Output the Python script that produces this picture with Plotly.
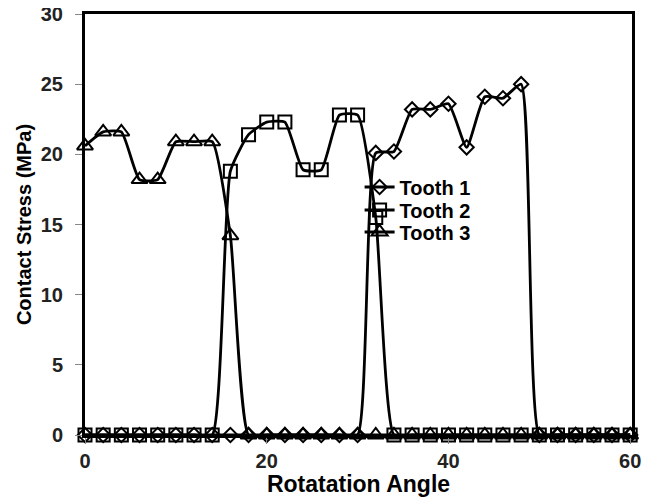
import plotly.graph_objects as go

angles = list(range(0, 62, 2))

tooth1 = [0, 0, 0, 0, 0, 0, 0, 0, 0, 0, 0, 0, 0, 0, 0, 0,
          20.1, 20.2, 23.2, 23.2, 23.6, 20.5, 24.1, 24.0, 25.0,
          0, 0, 0, 0, 0, 0]
tooth2 = [0, 0, 0, 0, 0, 0, 0, 0,
          18.8, 21.4, 22.3, 22.3, 18.9, 18.9, 22.8, 22.8, 15.5,
          0, 0, 0, 0, 0, 0, 0, 0, 0, 0, 0, 0, 0, 0]
tooth3 = [20.6, 21.6, 21.6, 18.2, 18.2, 20.9, 20.9, 20.9, 14.2,
          0, 0, 0, 0, 0, 0, 0, 0, 0, 0, 0, 0, 0, 0, 0, 0, 0, 0, 0, 0, 0, 0]

names = ["Tooth 1", "Tooth 2", "Tooth 3"]
symbols = ["diamond-open", "square-open", "triangle-up-open"]
sizes = [11, 13, 14]
series = [tooth1, tooth2, tooth3]
legend_ids = ["legend", "legend2", "legend3"]

font_family = "Liberation Sans, Arial, sans-serif"

fig = go.Figure()
for name, ys, sym, sz, lg in zip(names, series, symbols, sizes, legend_ids):
    fig.add_trace(go.Scatter(
        x=angles, y=ys, name=name, mode="lines+markers", legend=lg,
        line=dict(color="black", width=2.8, shape="spline", smoothing=0.5),
        marker=dict(symbol=sym, size=sz, color="black", line=dict(width=2, color="black")),
        cliponaxis=False,
    ))

legend_style = dict(xanchor="left", yanchor="middle", bgcolor="rgba(0,0,0,0)", borderwidth=0,
                    font=dict(size=20, family=font_family, color="black", weight="bold"),
                    itemwidth=30)
leg_x = 0.502
leg_y = [(435 - 187) / 421, (435 - 210) / 421, (435 - 232) / 421]

# page body has an 8px default margin; compensate so the plot sits where the reference does
fig.update_layout(
    width=648, height=489,
    margin=dict(l=77, r=24, t=6, b=62, autoexpand=False),
    plot_bgcolor="white", paper_bgcolor="white",
    font=dict(family=font_family, color="black"),
    showlegend=True,
    legend=dict(x=leg_x, y=leg_y[0], **legend_style),
    legend2=dict(x=leg_x, y=leg_y[1], **legend_style),
    legend3=dict(x=leg_x, y=leg_y[2], **legend_style),
    xaxis=dict(range=[0, 60.2], tickvals=[0, 20, 40, 60], showgrid=False, zeroline=False,
               automargin=False, ticklabeloverflow="allow",
               showline=True, linecolor="black", linewidth=3, mirror=True,
               ticks="outside", ticklen=6, tickwidth=1, tickcolor="#888",
               ticklabelstandoff=0,
               tickfont=dict(size=20, weight="bold", color="#222"),
               title=dict(text="Rotatation Angle", font=dict(size=23, weight="bold"), standoff=8)),
    yaxis=dict(range=[0, 30], tickvals=[0, 5, 10, 15, 20, 25, 30], showgrid=False, zeroline=False,
               automargin=False, ticklabeloverflow="allow",
               showline=True, linecolor="black", linewidth=3, mirror=True,
               ticks="outside", ticklen=7, tickwidth=1, tickcolor="#888",
               ticklabelstandoff=8,
               tickfont=dict(size=20, weight="bold", color="#222"),
               title=dict(text="Contact Stress (MPa)", font=dict(size=20, weight="bold"), standoff=4)),
)

fig.write_html("out.html")
